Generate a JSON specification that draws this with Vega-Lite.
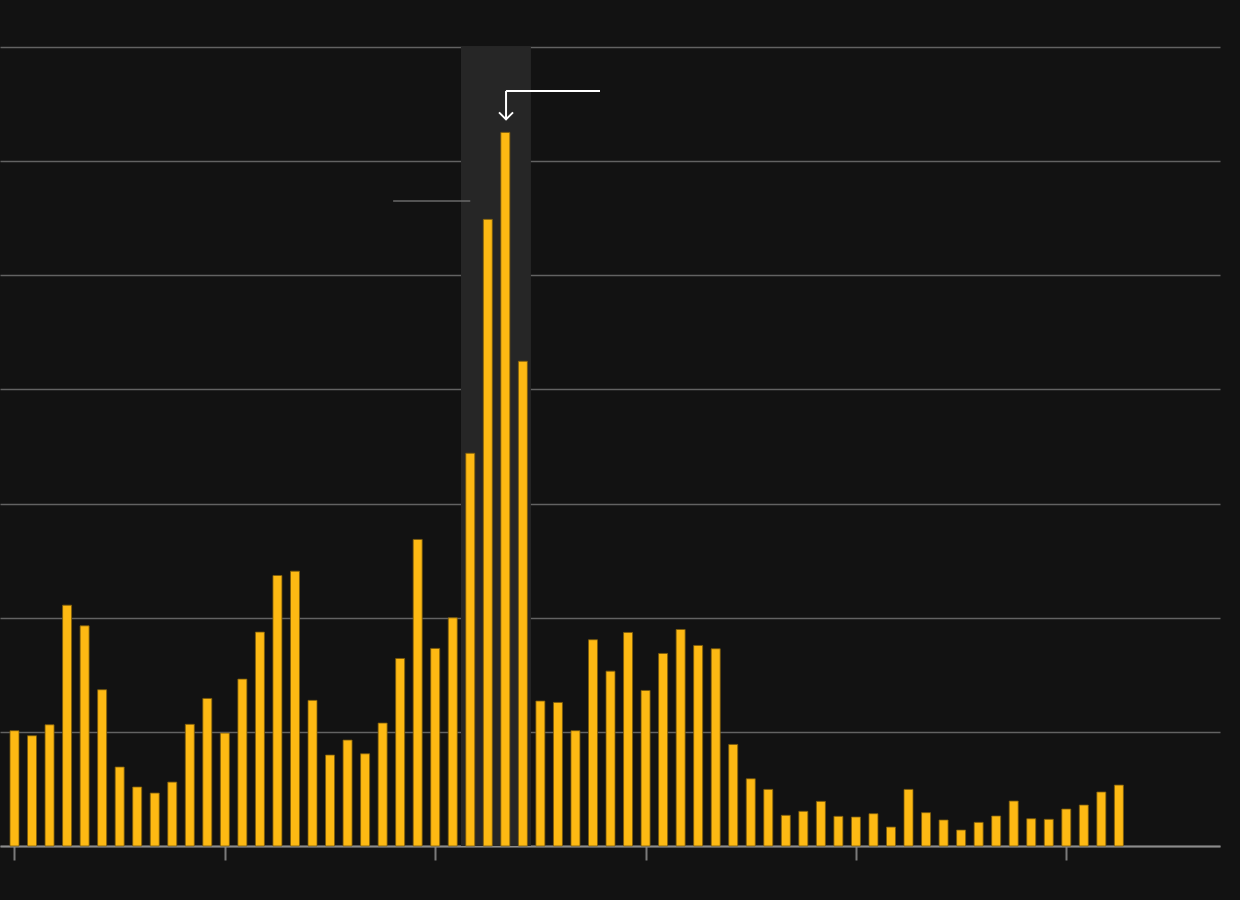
{
  "$schema": "https://vega.github.io/schema/vega-lite/v6.json",
  "width": 1220,
  "height": 799,
  "autosize": {"type": "none"},
  "padding": {"left": 0, "top": 47, "right": 20, "bottom": 54},
  "background": "#121212",
  "config": {"view": {"stroke": null}},
  "datasets": {
    "bars": [
      {"month": 0, "value": 10.1}, {"month": 1, "value": 9.66}, {"month": 2, "value": 10.62}, {"month": 3, "value": 21.1},
      {"month": 4, "value": 19.29}, {"month": 5, "value": 13.69}, {"month": 6, "value": 6.92}, {"month": 7, "value": 5.17},
      {"month": 8, "value": 4.64}, {"month": 9, "value": 5.6}, {"month": 10, "value": 10.66}, {"month": 11, "value": 12.93},
      {"month": 12, "value": 9.89}, {"month": 13, "value": 14.62}, {"month": 14, "value": 18.74}, {"month": 15, "value": 23.7},
      {"month": 16, "value": 24.08}, {"month": 17, "value": 12.76}, {"month": 18, "value": 7.97}, {"month": 19, "value": 9.28},
      {"month": 20, "value": 8.08}, {"month": 21, "value": 10.77}, {"month": 22, "value": 16.43}, {"month": 23, "value": 26.86},
      {"month": 24, "value": 17.31}, {"month": 25, "value": 19.99}, {"month": 26, "value": 34.41}, {"month": 27, "value": 54.9},
      {"month": 28, "value": 62.52}, {"month": 29, "value": 42.47}, {"month": 30, "value": 12.7}, {"month": 31, "value": 12.58},
      {"month": 32, "value": 10.1}, {"month": 33, "value": 18.07}, {"month": 34, "value": 15.32}, {"month": 35, "value": 18.71},
      {"month": 36, "value": 13.63}, {"month": 37, "value": 16.87}, {"month": 38, "value": 18.97}, {"month": 39, "value": 17.57},
      {"month": 40, "value": 17.28}, {"month": 41, "value": 8.9}, {"month": 42, "value": 5.89}, {"month": 43, "value": 4.96},
      {"month": 44, "value": 2.69}, {"month": 45, "value": 3.04}, {"month": 46, "value": 3.91}, {"month": 47, "value": 2.6},
      {"month": 48, "value": 2.54}, {"month": 49, "value": 2.83}, {"month": 50, "value": 1.66}, {"month": 51, "value": 4.96},
      {"month": 52, "value": 2.92}, {"month": 53, "value": 2.28}, {"month": 54, "value": 1.4}, {"month": 55, "value": 2.07},
      {"month": 56, "value": 2.63}, {"month": 57, "value": 3.94}, {"month": 58, "value": 2.39}, {"month": 59, "value": 2.34},
      {"month": 60, "value": 3.24}, {"month": 61, "value": 3.59}, {"month": 62, "value": 4.73}, {"month": 63, "value": 5.34}
    ],
    "highlight": [{"start": 25.47, "end": 29.46, "low": 0, "high": 70}],
    "leader": [{"x1": 21.6, "x2": 26.0, "y1": 56.5, "y2": 56.5}],
    "arrow": [
      {"x1": 28.04, "x2": 33.4, "y1": 66.15, "y2": 66.15},
      {"x1": 28.04, "x2": 28.04, "y1": 66.15, "y2": 63.75}
    ],
    "arrowhead": [{"x": 28.04, "y": 63.66}]
  },
  "layer": [
    {
      "data": {"name": "highlight"},
      "mark": {"type": "rect", "color": "#262626"},
      "encoding": {
        "x": {"field": "start", "type": "quantitative", "scale": {"domain": [-0.827, 68.768], "nice": false, "zero": false, "padding": 0},
          "axis": {"grid": false, "labels": false, "title": null, "values": [0, 12, 24, 36, 48, 60], "tickSize": 14, "tickColor": "#7a7a7a", "tickWidth": 2, "domainColor": "#8c8c8c", "domainWidth": 2}},
        "x2": {"field": "end"},
        "y": {"field": "low", "type": "quantitative", "scale": {"domain": [0, 70], "nice": false, "padding": 0},
          "axis": {"grid": true, "gridColor": "#626262", "gridWidth": 1.5, "values": [0, 10, 20, 30, 40, 50, 60, 70], "labels": false, "ticks": false, "domain": false, "title": null}},
        "y2": {"field": "high"}
      }
    },
    {
      "data": {"name": "bars"},
      "mark": {"type": "bar", "width": 9, "color": "#FDB913", "stroke": "#7a5a0c", "strokeWidth": 0.8},
      "encoding": {
        "x": {"field": "month", "type": "quantitative"},
        "y": {"field": "value", "type": "quantitative"}
      }
    },
    {
      "data": {"name": "leader"},
      "mark": {"type": "rule", "color": "#6a6a6a", "strokeWidth": 1.5},
      "encoding": {
        "x": {"field": "x1", "type": "quantitative"},
        "x2": {"field": "x2"},
        "y": {"field": "y1", "type": "quantitative"},
        "y2": {"field": "y2"}
      }
    },
    {
      "data": {"name": "arrow"},
      "mark": {"type": "rule", "color": "#ffffff", "strokeWidth": 2},
      "encoding": {
        "x": {"field": "x1", "type": "quantitative"},
        "x2": {"field": "x2"},
        "y": {"field": "y1", "type": "quantitative"},
        "y2": {"field": "y2"}
      }
    },
    {
      "data": {"name": "arrowhead"},
      "mark": {"type": "point", "shape": "M-1,-1L0,0L1,-1", "filled": false, "stroke": "#ffffff", "strokeWidth": 2, "size": 196, "opacity": 1},
      "encoding": {
        "x": {"field": "x", "type": "quantitative"},
        "y": {"field": "y", "type": "quantitative"}
      }
    }
  ]
}
